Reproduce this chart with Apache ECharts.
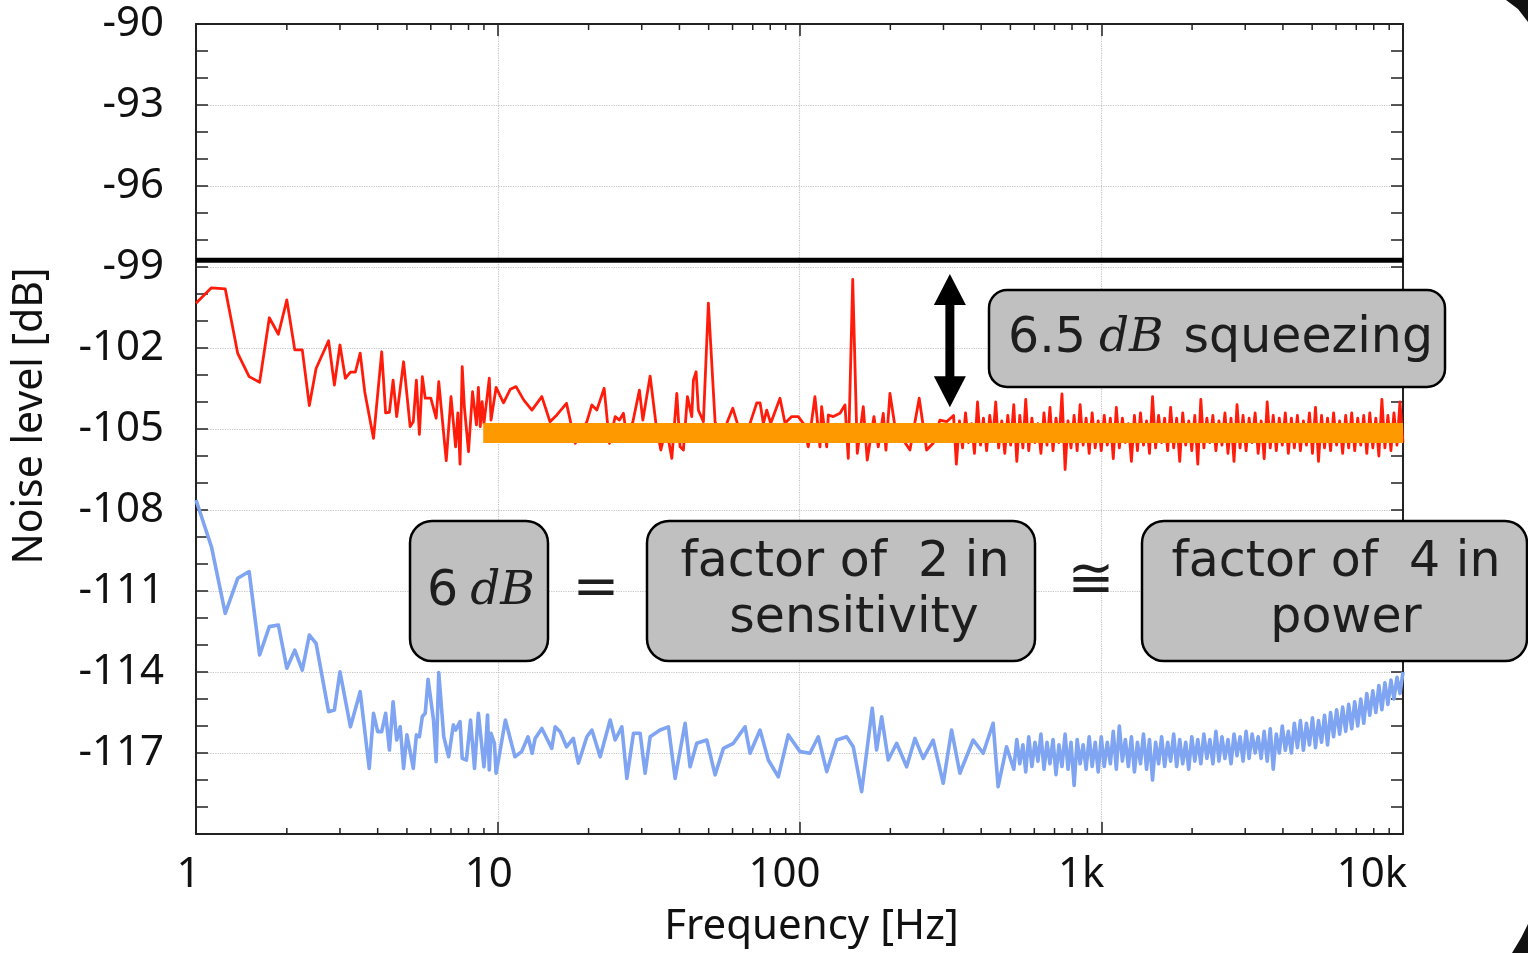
<!DOCTYPE html>
<html><head><meta charset="utf-8">
<script src="https://cdn.jsdelivr.net/npm/echarts@6/dist/echarts.min.js"></script>
<style>html,body{margin:0;padding:0;background:#fff}#c{width:1528px;height:953px}</style>
</head><body><div id="c"></div>
<script>
// ---------- data ----------
const xTickValues = [1, 10, 100, 1000, 10000];
const xTickLabels = ['1', '10', '100', '1k', '10k'];
const yTickLabels = ['-90', '-93', '-96', '-99', '-102', '-105', '-108', '-111', '-114', '-117'];
const minorFreqs = [2,3,4,5,6,7,8,9,20,30,40,50,60,70,80,90,200,300,400,500,600,700,800,900,2000,3000,4000,5000,6000,7000,8000,9000];
const shotNoiseLine = [[1, -98.75], [10000, -98.75]];
const squeezedFitLine = [[8.95, -105.15], [10000, -105.15]];
const squeezeArrow = [[315, -99.26, -104.19]];

const redPoints = [
[1.0,-100.34],[1.125,-99.77],[1.25,-99.81],[1.375,-102.2],[1.5,-103.06],[1.625,-103.27],[1.75,-100.88],[1.875,-101.49],[2.0,-100.22],[2.125,-102.07],[2.25,-102.07],[2.375,-104.13],[2.5,-102.76],[2.75,-101.73],[2.875,-103.37],[3.0,-101.89],[3.125,-103.12],[3.25,-102.89],[3.375,-102.89],[3.5,-102.19],[3.625,-103.63],[3.875,-105.35],[4.125,-102.14],[4.25,-104.4],[4.375,-104.38],[4.5,-103.19],[4.625,-104.54],[4.875,-102.51],[5.125,-104.91],[5.25,-104.73],[5.375,-103.19],[5.5,-105.2],[5.625,-103.06],[5.75,-103.86],[6.0,-103.86],[6.25,-104.6],[6.375,-103.25],[6.75,-106.17],[7.0,-103.8],[7.25,-105.66],[7.375,-104.4],[7.5,-106.3],[7.625,-102.69],[7.75,-104.17],[8.0,-105.84],[8.25,-103.62],[8.5,-104.85],[8.625,-103.46],[8.75,-104.91],[8.875,-103.99],[9.0,-104.79],[9.25,-103.68],[9.375,-103.12],[9.5,-104.67],[9.875,-103.46],[10.45,-104.03],[11.0,-103.53],[11.5,-103.43],[12.2,-103.93],[12.98,-104.3],[14.0,-103.8],[14.9,-104.73],[15.7,-104.48],[16.9,-104.05],[18.06,-105.53],
[19.74,-104.73],[20.51,-104.11],[21.3,-104.3],[22.52,-103.49],[23.46,-105.53],[24.5,-104.54],[25.31,-104.67],[26.1,-104.42],[26.78,-105.34],[28.04,-104.73],[29.48,-103.56],[30.26,-104.67],[31.99,-103.04],[33.48,-104.85],[34.71,-105.78],[36.14,-104.91],[37.75,-106.09],[39.21,-103.68],[40.21,-105.66],[41.23,-105.78],[42.52,-103.8],[43.96,-104.54],[44.5,-103.19],[45.43,-102.88],[46.23,-104.3],[48.03,-104.73],[49.89,-100.34],[52.51,-104.73],[54.56,-105.29],[57.41,-104.79],[60.09,-104.23],[62.23,-104.79],[65.15,-105.22],[68.57,-104.79],[72.17,-104.03],[74.01,-104.03],[75.88,-104.79],[77.88,-104.3],[80.29,-104.79],[86.17,-103.86],[89.54,-104.79],[94.24,-104.54],[99.09,-104.54],[102.9,-104.79],[106.9,-105.66],[112.5,-103.8],[116.9,-105.66],[118.4,-104.17],[123.1,-105.66],[124.6,-104.48],[129.4,-104.54],[136.2,-104.42],[141.5,-104.11],[145.1,-106.09],[150.1,-99.46],[155.4,-105.9],[162.7,-104.17],[167.7,-106.15],[176.5,-104.54],[182.4,-105.66],[189.5,-104.42],[193.4,-105.78],[199.4,-103.68],[207.2,-104.91],[215.2,-105.22],[232.3,-105.78],[249.3,-103.86],[263.8,-105.78],[277.3,-105.53],[291.9,-104.67],[307.2,-104.73],
[324,-104.5],[331,-106.3],[339,-104.7],[347,-105.7],[355,-104.4],[363,-105.5],[372,-104.8],[380,-105.9],[389,-104.0],[398,-105.6],[407,-104.6],[417,-105.8],[427,-104.5],[437,-105.4],[447,-104.0],[457,-105.7],[468,-104.7],[479,-105.9],[490,-104.5],[501,-105.6],[513,-104.1],[525,-106.2],[537,-104.5],[550,-105.7],[562,-103.9],[575,-105.8],[589,-104.6],[603,-105.5],[617,-104.8],[631,-105.9],[646,-104.4],[661,-105.6],[676,-104.2],[692,-105.8],[708,-104.6],[724,-105.5],[741,-103.7],[759,-106.5],[776,-104.7],[794,-105.7],[813,-104.5],[832,-105.8],[851,-104.1],[871,-105.6],[891,-104.6],[912,-105.9],[933,-104.4],[955,-105.7],[977,-104.7],
[1000,-105.8],[1023,-104.5],[1047,-105.6],[1072,-104.6],[1096,-106.1],[1122,-104.2],[1148,-105.7],[1175,-104.6],[1202,-105.5],[1230,-104.8],[1259,-106.2],[1288,-104.5],[1318,-105.8],[1349,-104.4],[1380,-105.6],[1413,-104.7],[1445,-105.9],[1479,-103.8],[1514,-105.7],[1549,-104.5],[1585,-105.5],[1622,-104.6],[1660,-105.8],[1698,-104.2],[1738,-105.7],[1778,-104.6],[1820,-106.2],[1862,-104.4],[1905,-105.6],[1950,-104.7],[1995,-105.8],[2042,-104.5],[2089,-106.3],[2138,-103.9],[2188,-105.7],[2239,-104.6],[2291,-105.5],[2344,-104.5],[2399,-105.8],[2455,-104.7],[2512,-105.6],[2570,-104.4],[2630,-105.9],[2692,-104.6],[2754,-106.2],[2818,-104.1],[2884,-105.7],[2951,-104.5],[3020,-105.8],[3090,-104.6],[3162,-105.5],[3236,-104.4],[3311,-105.9],[3388,-104.7],[3467,-106.1],[3548,-104.0],[3631,-105.7],[3715,-104.5],[3802,-105.8],[3890,-104.6],[3981,-105.6],[4074,-104.4],[4169,-105.9],[4266,-104.6],[4365,-105.7],[4467,-104.5],[4571,-105.8],[4677,-104.7],[4786,-105.6],[4898,-104.4],[5012,-105.9],[5129,-104.2],[5248,-106.2],[5370,-104.5],[5495,-105.7],[5623,-104.6],[5754,-105.8],[5888,-104.4],[6026,-105.6],[6166,-104.7],[6310,-105.9],[6457,-104.5],[6607,-105.7],[6761,-104.4],[6918,-105.8],[7079,-104.6],[7244,-105.6],[7413,-104.5],[7586,-105.9],[7762,-104.4],[7943,-105.7],[8128,-104.6],[8318,-106.0],[8511,-103.9],[8710,-105.7],[8913,-104.5],[9120,-105.8],[9333,-104.4],[9550,-105.6],[9772,-104.0],[10000,-105.5]
];

const bluePoints = [
[1.0,-107.63],[1.125,-109.36],[1.25,-111.83],[1.375,-110.53],[1.5,-110.28],[1.625,-113.37],[1.75,-112.32],[1.875,-112.26],[2.0,-113.86],[2.125,-113.19],[2.25,-113.93],[2.375,-112.63],[2.5,-112.94],[2.75,-115.47],[2.875,-115.41],[3.0,-113.99],[3.25,-116.03],[3.5,-114.73],[3.75,-117.57],[3.875,-115.53],[4.0,-116.21],[4.125,-116.21],[4.25,-115.53],[4.375,-116.89],[4.5,-115.1],[4.625,-116.52],[4.75,-116.03],[4.875,-117.57],[5.0,-116.33],[5.25,-117.57],[5.375,-116.33],[5.5,-116.4],[5.625,-115.65],[5.75,-115.53],[5.875,-114.27],[6.125,-115.78],[6.25,-117.32],[6.375,-114.02],[6.625,-116.4],[6.875,-117.14],[7.125,-115.96],[7.25,-116.15],[7.5,-115.84],[7.625,-117.2],[7.875,-117.26],[8.125,-115.78],[8.375,-117.57],[8.625,-115.53],[8.75,-115.53],[9.0,-117.51],[9.125,-116.77],[9.25,-115.59],[9.375,-117.63],[9.5,-116.27],[9.75,-116.64],[9.875,-117.75],[10.1,-117.14],[10.6,-115.78],[11.4,-117.14],[12.0,-116.95],[12.6,-116.4],[13.0,-117.01],[13.3,-116.46],[14.0,-116.09],[15.1,-116.83],[15.5,-116.03],[16.1,-116.21],[16.9,-116.77],[17.8,-116.46],[18.5,-117.38],
[19.74,-116.4],[20.51,-116.15],[21.85,-117.14],[23.58,-115.78],[24.5,-116.52],[25.78,-116.03],[26.78,-117.94],[28.17,-116.27],[29.64,-116.27],[30.79,-117.75],[31.99,-116.4],[34.52,-116.15],[36.78,-116.03],[38.71,-117.94],[41.77,-115.9],[43.39,-117.51],[45.66,-116.64],[49.28,-116.52],[52.51,-117.81],[55.95,-116.83],[60.37,-116.64],[66.0,-116.03],[68.57,-117.01],[74.01,-116.15],[78.82,-117.26],[85.09,-117.88],[91.83,-116.33],[100.4,-116.95],[108.3,-117.01],[115.4,-116.4],[123.1,-117.69],[132.8,-116.52],[143.3,-116.4],[150.7,-116.77],[160.7,-118.43],[174.2,-115.34],[180.1,-116.89],[187.2,-115.66],[196.8,-117.26],[209.9,-116.64],[226.5,-117.51],[241.3,-116.46],[257.0,-117.2],[277.3,-116.52],[299.4,-118.12],[319.2,-116.15],[340.0,-117.75],[376.3,-116.52],[406.1,-117.01],[438.2,-115.9],[455.3,-118.25],[485.5,-116.77],
[513,-117.6],[525,-116.5],[537,-117.4],[550,-116.7],[562,-117.7],[575,-116.4],[589,-117.5],[603,-116.6],[617,-117.3],[631,-116.3],[646,-117.6],[661,-116.6],[676,-117.4],[692,-116.5],[708,-117.8],[724,-116.7],[741,-117.5],[759,-116.3],[776,-117.6],[794,-116.6],[813,-118.2],[832,-116.5],[851,-117.4],[871,-116.7],[891,-117.6],[912,-116.4],[933,-117.5],[955,-116.6],[977,-117.7],
[1000,-116.4],[1023,-117.5],[1047,-116.6],[1072,-117.4],[1096,-116.2],[1122,-117.6],[1148,-116.0],[1175,-117.3],[1202,-116.5],[1230,-117.5],[1259,-116.4],[1288,-117.7],[1318,-116.6],[1349,-117.4],[1380,-116.3],[1413,-117.6],[1445,-116.5],[1479,-118.0],[1514,-116.6],[1549,-117.4],[1585,-116.4],[1622,-117.5],[1660,-116.6],[1698,-117.3],[1738,-116.3],[1778,-117.5],[1820,-116.5],[1862,-117.4],[1905,-116.6],[1950,-117.6],[1995,-116.4],[2042,-117.3],[2089,-116.5],[2138,-117.4],[2188,-116.3],[2239,-117.2],[2291,-116.5],[2344,-117.4],[2399,-116.2],[2455,-117.3],[2512,-116.4],[2570,-117.2],[2630,-116.5],[2692,-117.4],[2754,-116.3],[2818,-117.1],[2884,-116.4],[2951,-117.3],[3020,-116.2],[3090,-117.2],[3162,-116.3],[3236,-117.0],[3311,-116.4],[3388,-117.2],[3467,-116.2],[3548,-117.3],[3631,-116.1],[3715,-117.6],[3802,-116.3],[3890,-117.0],[3981,-116.0],[4074,-116.9],[4169,-116.2],[4266,-117.0],[4365,-115.9],[4467,-116.8],[4571,-115.8],[4677,-116.9],[4786,-115.9],[4898,-116.7],[5012,-115.7],[5129,-116.8],[5248,-115.8],[5370,-116.6],[5495,-115.6],[5623,-116.7],[5754,-115.5],[5888,-116.4],[6026,-115.4],[6166,-116.3],[6310,-115.3],[6457,-116.2],[6607,-115.2],[6761,-116.1],[6918,-115.1],[7079,-116.0],[7244,-115.0],[7413,-115.9],[7586,-114.8],[7762,-115.6],[7943,-114.7],[8128,-115.5],[8318,-114.5],[8511,-115.4],[8710,-114.4],[8913,-115.2],[9120,-114.3],[9333,-115.0],[9550,-114.2],[9772,-114.8],[10000,-114.0]
];

// ---------- chart ----------
const chart = echarts.init(document.getElementById('c'), null, {renderer: 'canvas'});
const axisColor = '#222';
const labelFont = {fontFamily: 'Noto Sans', fontSize: 42, color: '#111'};
const xShift = [15, 18, 30, 40, 62];
const xRich = {};
xShift.forEach((p, i) => { xRich['s' + i] = Object.assign({padding: [0, p, 0, 0]}, labelFont); });

const boxStyle = {fill: '#c0c0c0', stroke: '#000', lineWidth: 2.5};
const boxText = {fontFamily: 'DejaVu Sans', fontSize: 49, fill: '#1e1e1e'};
const mathText = {fontFamily: 'DejaVu Serif', fontStyle: 'italic', fontSize: 47, fill: '#1e1e1e'};

function box(x, y, w, h, r) {
  return {type: 'rect', shape: {x: x, y: y, width: w, height: h, r: r}, style: boxStyle, z: 20};
}
function txt(x, y, s, st) {
  return {type: 'text', x: x, y: y, z: 21, style: Object.assign({text: s, align: 'center', verticalAlign: 'middle'}, st || boxText)};
}

const option = {
  animation: false,
  backgroundColor: '#fff',
  grid: {left: 196, right: 125, top: 24, bottom: 119, outerBoundsMode: 'none'},
  xAxis: [{
    type: 'log', logBase: 10, min: 1, max: 10000, position: 'bottom',
    name: 'Frequency [Hz]', nameLocation: 'middle', nameGap: 72,
    nameTextStyle: {fontFamily: 'Noto Sans', fontSize: 42, color: '#111', padding: [0, 0, 0, 24]},
    axisLine: {onZero: false, lineStyle: {color: axisColor, width: 2}},
    axisTick: {inside: true, length: 12, lineStyle: {color: axisColor, width: 1.5}},
    axisLabel: Object.assign({margin: 20, rich: xRich, formatter: v => {
      const i = Math.round(Math.log10(v));
      return i >= 0 && i < xTickLabels.length ? '{s' + i + '|' + xTickLabels[i] + '}' : '';
    }}, labelFont),
    splitLine: {show: true, lineStyle: {color: '#c4c4c4', type: 'dotted', width: 1.2}},
    minorTick: {show: false}
  }, {
    type: 'log', logBase: 10, min: 1, max: 10000, position: 'top',
    axisLine: {onZero: false, lineStyle: {color: axisColor, width: 2}},
    axisTick: {inside: true, length: 12, lineStyle: {color: axisColor, width: 1.5}},
    axisLabel: {show: false}, splitLine: {show: false}
  }],
  yAxis: [{
    type: 'value', min: -120, max: -90, interval: 3, position: 'left',
    name: 'Noise level [dB]', nameLocation: 'middle', nameGap: 145, nameRotate: 90,
    nameTextStyle: {fontFamily: 'Noto Sans', fontSize: 41, color: '#111', padding: [0, 0, 0, 26]},
    axisLine: {onZero: false, lineStyle: {color: axisColor, width: 2}},
    axisTick: {inside: true, length: 12, lineStyle: {color: axisColor, width: 1.5}},
    minorTick: {show: true, splitNumber: 3, length: 12, lineStyle: {color: axisColor, width: 1.5}},
    axisLabel: Object.assign({margin: 32, padding: [8, 0, 0, 0], formatter: v => yTickLabels.includes(String(v)) ? String(v) : ''}, labelFont),
    splitLine: {show: true, lineStyle: {color: '#c4c4c4', type: 'dotted', width: 1.2}}
  }, {
    type: 'value', min: -120, max: -90, interval: 3, position: 'right',
    axisLine: {onZero: false, lineStyle: {color: axisColor, width: 2}},
    axisTick: {inside: true, length: 12, lineStyle: {color: axisColor, width: 1.5}},
    minorTick: {show: true, splitNumber: 3, length: 12, lineStyle: {color: axisColor, width: 1.5}},
    axisLabel: {show: false}, splitLine: {show: false}
  }],
  series: [
    {name: 'anti-squeezed', type: 'line', data: bluePoints, showSymbol: false, z: 2,
     lineStyle: {color: '#7ea4f2', width: 3.6, join: 'round'}},
    {name: 'squeezed', type: 'line', data: redPoints, showSymbol: false, z: 3,
     lineStyle: {color: '#ff1c0a', width: 2.8, join: 'round'}},
    {name: 'squeezed level', type: 'line', data: squeezedFitLine, showSymbol: false, z: 4,
     lineStyle: {color: '#ff9900', width: 20, cap: 'butt'}},
    {name: 'shot noise', type: 'line', data: shotNoiseLine, showSymbol: false, z: 4,
     lineStyle: {color: '#000', width: 5, cap: 'butt'}},
    {name: 'minor ticks', type: 'custom', silent: true, clip: false, z: 6,
     encode: {x: 0, y: [1, 2]},
     data: minorFreqs.map(f => [f, -120, -90]),
     renderItem: (params, api) => {
       const b = api.coord([api.value(0), api.value(1)]);
       const t = api.coord([api.value(0), api.value(2)]);
       return {type: 'group', children: [
         {type: 'line', shape: {x1: b[0], y1: b[1], x2: b[0], y2: b[1] - 6}, style: {stroke: axisColor, lineWidth: 1.5}},
         {type: 'line', shape: {x1: t[0], y1: t[1], x2: t[0], y2: t[1] + 6}, style: {stroke: axisColor, lineWidth: 1.5}}
       ]};
     }},
    {name: 'arrow', type: 'custom', silent: true, clip: false, z: 10,
     encode: {x: 0, y: [1, 2]},
     data: squeezeArrow,
     renderItem: (params, api) => {
       const t = api.coord([api.value(0), api.value(1)]);
       const b = api.coord([api.value(0), api.value(2)]);
       const hl = 31, hw = 16, sw = 9, x = t[0];
       return {type: 'group', children: [
         {type: 'rect', shape: {x: x - sw / 2, y: t[1] + hl - 2, width: sw, height: b[1] - t[1] - 2 * hl + 4}, style: {fill: '#000'}},
         {type: 'polygon', shape: {points: [[x, t[1]], [x - hw, t[1] + hl], [x + hw, t[1] + hl]]}, style: {fill: '#000'}},
         {type: 'polygon', shape: {points: [[x, b[1]], [x - hw, b[1] - hl], [x + hw, b[1] - hl]]}, style: {fill: '#000'}}
       ]};
     }}
  ],
  graphic: [
    box(989, 290, 456, 97, 18),
    {type: 'text', x: 1008, y: 339, z: 21, style: {
      text: '{a|6.5}{b|dB}{c|squeezing}', verticalAlign: 'middle', align: 'left',
      rich: {a: boxText, b: Object.assign({padding: [0, 0, 0, 13]}, mathText), c: Object.assign({padding: [0, 0, 0, 20]}, boxText)}
    }},
    box(410, 521, 138, 140, 22),
    {type: 'text', x: 481, y: 592, z: 21, style: {
      text: '{a|6}{b|dB}', verticalAlign: 'middle', align: 'center',
      rich: {a: boxText, b: Object.assign({padding: [0, 0, 0, 12]}, mathText)}
    }},
    txt(596, 590, '=', {fontFamily: 'DejaVu Serif', fontSize: 56, fill: '#1e1e1e'}),
    box(647, 521, 388, 140, 22),
    txt(845, 563, 'factor of  2 in'),
    txt(854, 619, 'sensitivity'),
    txt(1091, 582, '\u2245', {fontFamily: 'DejaVu Sans', fontSize: 56, fill: '#1e1e1e'}),
    box(1142, 521, 385, 140, 22),
    txt(1336, 563, 'factor of  4 in'),
    txt(1346, 619, 'power'),
    {type: 'polygon', z: 30, shape: {points: [[1506, 0], [1528, 0], [1528, 22], [1518, 9]]}, style: {fill: '#111'}},
    {type: 'polygon', z: 30, shape: {points: [[1528, 924], [1528, 953], [1512, 953], [1521, 938]]}, style: {fill: '#111'}}
  ]
};
chart.setOption(option);
</script></body></html>
